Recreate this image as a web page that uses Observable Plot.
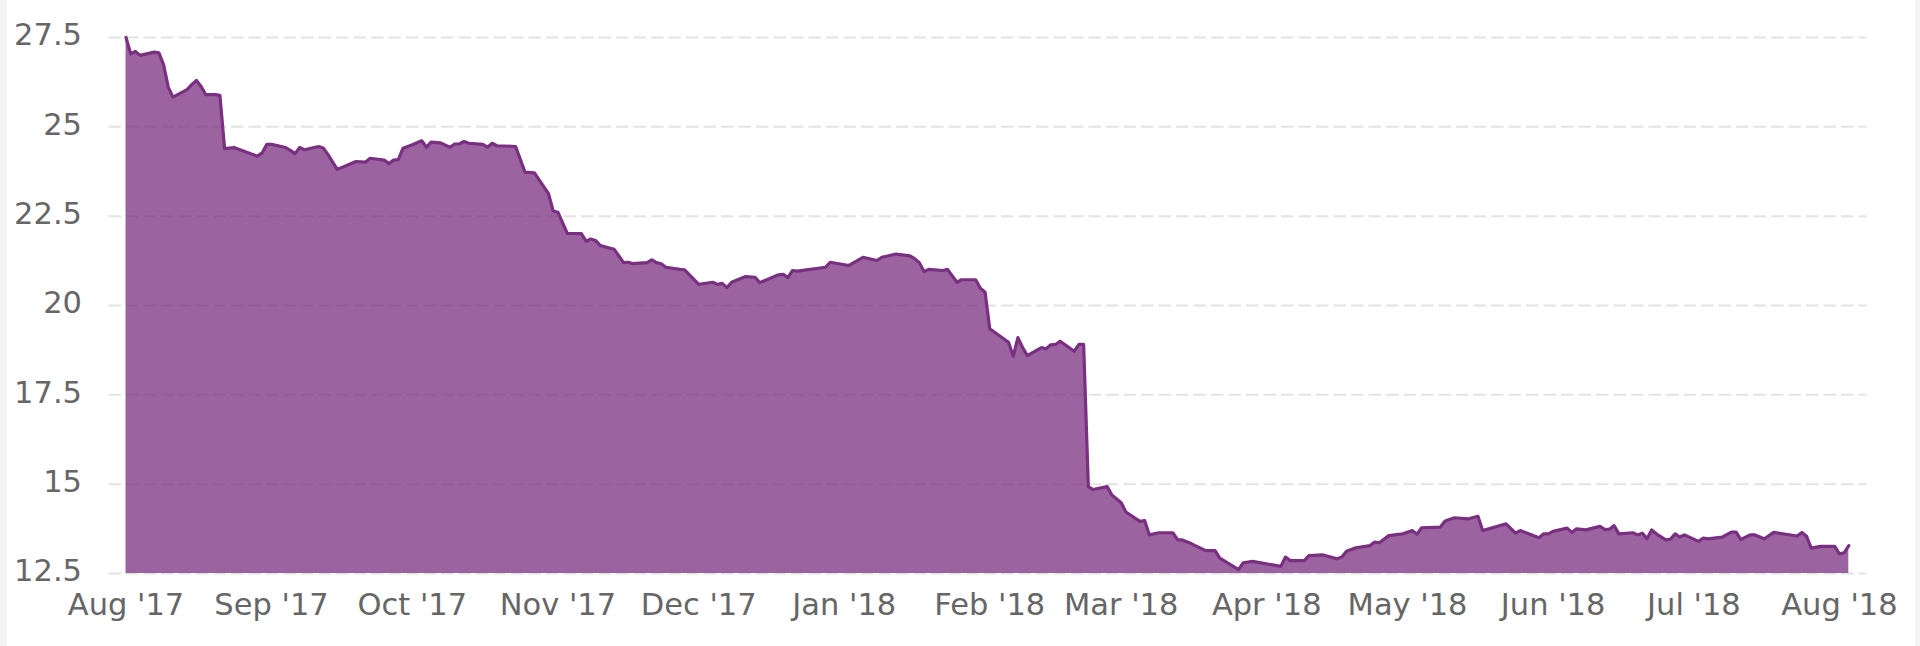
<!DOCTYPE html>
<html>
<head>
<meta charset="utf-8">
<script src="https://cdn.jsdelivr.net/npm/d3@7"></script>
<script src="https://cdn.jsdelivr.net/npm/@observablehq/plot@0.6"></script>
<style>
  html, body { margin: 0; padding: 0; background: #f4f4f4; }
  #panel { margin-left: 7px; width: 1908px; height: 646px; background: #ffffff; }
</style>
</head>
<body>
<div id="panel"></div>
<script>
const dates = [
  "2017-08-01","2017-08-02","2017-08-03","2017-08-04","2017-08-07","2017-08-08","2017-08-09","2017-08-10","2017-08-11",
  "2017-08-14","2017-08-15","2017-08-16","2017-08-17","2017-08-18","2017-08-20","2017-08-21","2017-08-22","2017-08-24",
  "2017-08-25","2017-08-29","2017-08-30","2017-08-31","2017-09-01","2017-09-04","2017-09-05","2017-09-06","2017-09-07",
  "2017-09-08","2017-09-11","2017-09-12","2017-09-13","2017-09-15","2017-09-17","2017-09-19","2017-09-21","2017-09-22",
  "2017-09-25","2017-09-26","2017-09-27","2017-09-28","2017-09-29","2017-10-01","2017-10-03","2017-10-04","2017-10-05",
  "2017-10-07","2017-10-09","2017-10-10","2017-10-11","2017-10-12","2017-10-13","2017-10-16","2017-10-17","2017-10-18",
  "2017-10-19","2017-10-23","2017-10-25","2017-10-27","2017-10-30","2017-10-31","2017-11-01","2017-11-03","2017-11-06",
  "2017-11-07","2017-11-08","2017-11-09","2017-11-10","2017-11-13","2017-11-15","2017-11-16","2017-11-17","2017-11-20",
  "2017-11-21","2017-11-22","2017-11-23","2017-11-24","2017-11-27","2017-11-28","2017-12-01","2017-12-04","2017-12-05",
  "2017-12-06","2017-12-07","2017-12-08","2017-12-11","2017-12-13","2017-12-14","2017-12-18","2017-12-19","2017-12-20",
  "2017-12-21","2017-12-22","2017-12-28","2017-12-29","2018-01-02","2018-01-05","2018-01-08","2018-01-09","2018-01-10",
  "2018-01-12","2018-01-15","2018-01-16","2018-01-17","2018-01-18","2018-01-19","2018-01-22","2018-01-23","2018-01-25",
  "2018-01-26","2018-01-29","2018-01-30","2018-01-31","2018-02-01","2018-02-05","2018-02-06","2018-02-07","2018-02-08",
  "2018-02-09","2018-02-12","2018-02-13","2018-02-14","2018-02-15","2018-02-16","2018-02-19","2018-02-20","2018-02-21",
  "2018-02-22","2018-02-23","2018-02-26","2018-02-27","2018-03-01","2018-03-02","2018-03-05","2018-03-06","2018-03-07",
  "2018-03-09","2018-03-12","2018-03-13","2018-03-14","2018-03-16","2018-03-19","2018-03-21","2018-03-22","2018-03-26",
  "2018-03-27","2018-03-29","2018-04-04","2018-04-05","2018-04-06","2018-04-09","2018-04-10","2018-04-13","2018-04-16",
  "2018-04-17","2018-04-18","2018-04-20","2018-04-23","2018-04-24","2018-04-25","2018-04-27","2018-04-30","2018-05-02",
  "2018-05-03","2018-05-04","2018-05-08","2018-05-09","2018-05-11","2018-05-14","2018-05-16","2018-05-17","2018-05-22",
  "2018-05-24","2018-05-25","2018-05-29","2018-05-30","2018-05-31","2018-06-01","2018-06-04","2018-06-05","2018-06-06",
  "2018-06-08","2018-06-11","2018-06-12","2018-06-13","2018-06-14","2018-06-15","2018-06-18","2018-06-19","2018-06-20",
  "2018-06-21","2018-06-22","2018-06-23","2018-06-25","2018-06-26","2018-06-27","2018-06-28","2018-06-29","2018-07-02",
  "2018-07-03","2018-07-04","2018-07-07","2018-07-09","2018-07-10","2018-07-11","2018-07-13","2018-07-14","2018-07-16",
  "2018-07-18","2018-07-23","2018-07-24","2018-07-25","2018-07-26","2018-07-28","2018-07-31","2018-08-01","2018-08-02",
  "2018-08-03"
];
const values = [
  27.50,27.04,27.11,27.00,27.09,27.07,26.74,26.11,25.83,
  26.04,26.18,26.30,26.13,25.90,25.90,25.88,24.39,24.42,
  24.37,24.18,24.27,24.51,24.51,24.42,24.34,24.25,24.42,
  24.36,24.45,24.41,24.23,23.81,23.92,24.03,24.01,24.12,
  24.07,23.97,24.07,24.08,24.40,24.50,24.61,24.43,24.57,
  24.55,24.43,24.52,24.52,24.59,24.54,24.51,24.43,24.54,
  24.47,24.45,23.73,23.71,23.13,22.64,22.61,22.02,22.01,
  21.80,21.86,21.82,21.68,21.57,21.20,21.21,21.17,21.20,
  21.28,21.20,21.17,21.07,21.01,21.00,20.59,20.65,20.59,
  20.62,20.50,20.65,20.81,20.79,20.64,20.86,20.87,20.78,
  20.98,20.96,21.07,21.21,21.12,21.35,21.26,21.35,21.38,
  21.44,21.39,21.31,21.20,20.95,21.01,20.98,21.01,20.65,
  20.72,20.72,20.48,20.37,19.35,18.97,18.58,19.10,18.82,
  18.60,18.82,18.79,18.90,18.91,19.00,18.72,18.91,18.91,
  14.93,14.85,14.93,14.70,14.48,14.22,13.96,13.98,13.58,
  13.64,13.64,13.45,13.44,13.33,13.14,13.14,12.93,12.61,
  12.80,12.84,12.70,12.96,12.86,12.86,13.00,13.02,12.91,
  12.96,13.12,13.22,13.28,13.38,13.36,13.56,13.61,13.70,
  13.60,13.78,13.80,13.97,14.06,14.03,14.10,13.70,13.89,
  13.63,13.70,13.50,13.61,13.61,13.68,13.77,13.65,13.75,
  13.72,13.82,13.73,13.74,13.84,13.61,13.64,13.58,13.63,
  13.47,13.72,13.61,13.44,13.46,13.61,13.52,13.58,13.40,
  13.49,13.47,13.52,13.66,13.66,13.45,13.58,13.58,13.47,
  13.65,13.55,13.65,13.54,13.21,13.26,13.26,13.05,13.08,
  13.28
];
const yTicks = [12.5, 15, 17.5, 20, 22.5, 25, 27.5];
const xTicks = ["2017-08-01","2017-09-01","2017-10-01","2017-11-01","2017-12-01","2018-01-01","2018-02-01",
                "2018-03-01","2018-04-01","2018-05-01","2018-06-01","2018-07-01","2018-08-01"];

const data = dates.map((d, i) => ({date: new Date(d + "T00:00Z"), value: values[i]}));
const color = "#7a3080";

const chart = Plot.plot({
  width: 1908,
  height: 646,
  marginLeft: 101.5,
  marginRight: 48.5,
  marginTop: 37,
  marginBottom: 73,
  style: {fontFamily: "'DejaVu Sans', sans-serif", fontSize: "30.5px", color: "#666666", background: "transparent"},
  x: {type: "utc", label: null, domain: [new Date("2017-07-28T09:00Z"), new Date("2018-08-06T21:00Z")]},
  y: {label: null, domain: [12.5, 27.5]},
  marks: [
    Plot.gridY(yTicks, {stroke: "#e3e3e3", strokeOpacity: 1, strokeWidth: 2, strokeDasharray: "12.5,5"}),
    Plot.areaY(data, {x: "date", y: "value", fill: color, fillOpacity: 0.75, clip: true}),
    Plot.lineY(data, {x: "date", y: "value", stroke: color, strokeWidth: 3.2, strokeLinejoin: "round"}),
    Plot.axisY(yTicks, {label: null, tickSize: 0, tickPadding: 27, dy: -2, tickFormat: d => String(d), fill: "#666666", fontSize: 30.5}),
    Plot.axisX(xTicks.map(d => new Date(d + "T00:00Z")), {label: null, tickSize: 0, tickPadding: 19.5, tickFormat: d3.utcFormat("%b '%y"), fill: "#666666", fontSize: 30.5})
  ]
});
document.getElementById("panel").appendChild(chart);
</script>
</body>
</html>
